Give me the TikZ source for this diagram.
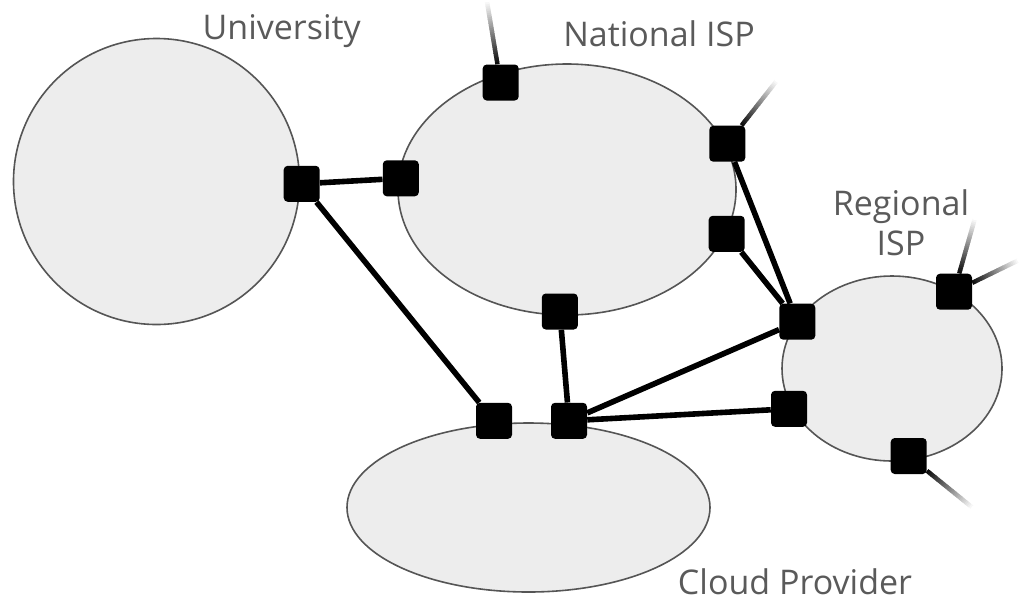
\documentclass[tikz,border=0pt]{standalone}
\usepackage{fontspec}
\setmainfont{Open Sans}
\usetikzlibrary{shapes.geometric,calc}
\definecolor{regfill}{HTML}{EDEDED}
\definecolor{regdraw}{HTML}{555555}
\definecolor{labelc}{HTML}{5A5A5A}
\pgfdeclarelayer{regions}
\pgfdeclarelayer{links}
\pgfsetlayers{regions,links,main}
\tikzset{
 region/.style={draw=regdraw, fill=regfill, line width=1.2pt, inner sep=0pt},
 router/.style={rectangle, fill=black, minimum size=27pt, inner sep=0pt, rounded corners=3pt},
 link/.style={line width=4.2pt, black},
 lbl/.style={text=labelc, font=\fontsize{25.5}{30}\selectfont, inner sep=0pt}
}
\newcommand\fadeline[2]{%
  \foreach \i in {0,...,29}{%
    \pgfmathsetmacro\ta{\i/30}%
    \pgfmathsetmacro\tb{(\i+1.3)/30}%
    \pgfmathsetmacro\cc{95*(1-\i/29)}%
    \draw[line width=3.3pt, black!\cc] ($(#1)!\ta!(#2)$) -- ($(#1)!\tb!(#2)$);
  }}
\begin{document}
\begin{tikzpicture}[x=0.75pt,y=-0.75pt]
\useasboundingbox (0,0) rectangle (1019,601);
\begin{pgfonlayer}{regions}
\node[region, circle, minimum size=214.5pt] (univ) at (156.5,181.5) {};
\node[region, ellipse, minimum width=253.5pt, minimum height=188.25pt] (nat) at (567,189.5) {};
\node[region, ellipse, minimum width=165pt, minimum height=138.75pt] (reg) at (892,368.5) {};
\node[region, ellipse, minimum width=272.25pt, minimum height=126.75pt] (cloud) at (528.5,507.5) {};
\end{pgfonlayer}

\node[lbl, anchor=base] (tuniv) at (281.7,39.3) {University};
\node[lbl, anchor=base] (tnat) at (659,46.7) {National ISP};
\node[lbl, anchor=base] (tcloud) at (795,594) {Cloud Provider};
\node[lbl, align=center, anchor=base] (treg) at (901,255) {Regional\\ISP};

\node[router] (U1) at (301.7,183.8) {};
\node[router] (N1) at (400.8,178.3) {};
\node[router] (N2) at (500.7,82.5) {};
\node[router] (N3) at (727.3,143.7) {};
\node[router] (N4) at (726.7,233.8) {};
\node[router] (N5) at (559.8,311.5) {};
\node[router] (R1) at (797.3,321.7) {};
\node[router] (R2) at (954,291.7) {};
\node[router] (R3) at (789,408.8) {};
\node[router] (R4) at (908.7,456) {};
\node[router] (C1) at (494,420.8) {};
\node[router] (C2) at (569,420.8) {};

\coordinate (eN2) at (486.7,0);
\coordinate (eN3) at (777.3,80);
\coordinate (eR2a) at (975,218);
\coordinate (eR2b) at (1019,260);
\coordinate (eR4) at (973.3,508.3);

\begin{pgfonlayer}{links}
\draw[link] (U1) -- (N1);
\draw[link] (U1) -- (C1);
\draw[link] (N3) -- (R1);
\draw[link] (N4) -- (R1);
\draw[link] (N5) -- (C2);
\draw[link] (C2) -- (R1);
\draw[link] (C2) -- (R3);
\fadeline{N2.100}{eN2}
\fadeline{N3.52}{eN3}
\fadeline{R2.74}{eR2a}
\fadeline{R2.26}{eR2b}
\fadeline{R4.-39}{eR4}
\end{pgfonlayer}
\end{tikzpicture}
\end{document}
